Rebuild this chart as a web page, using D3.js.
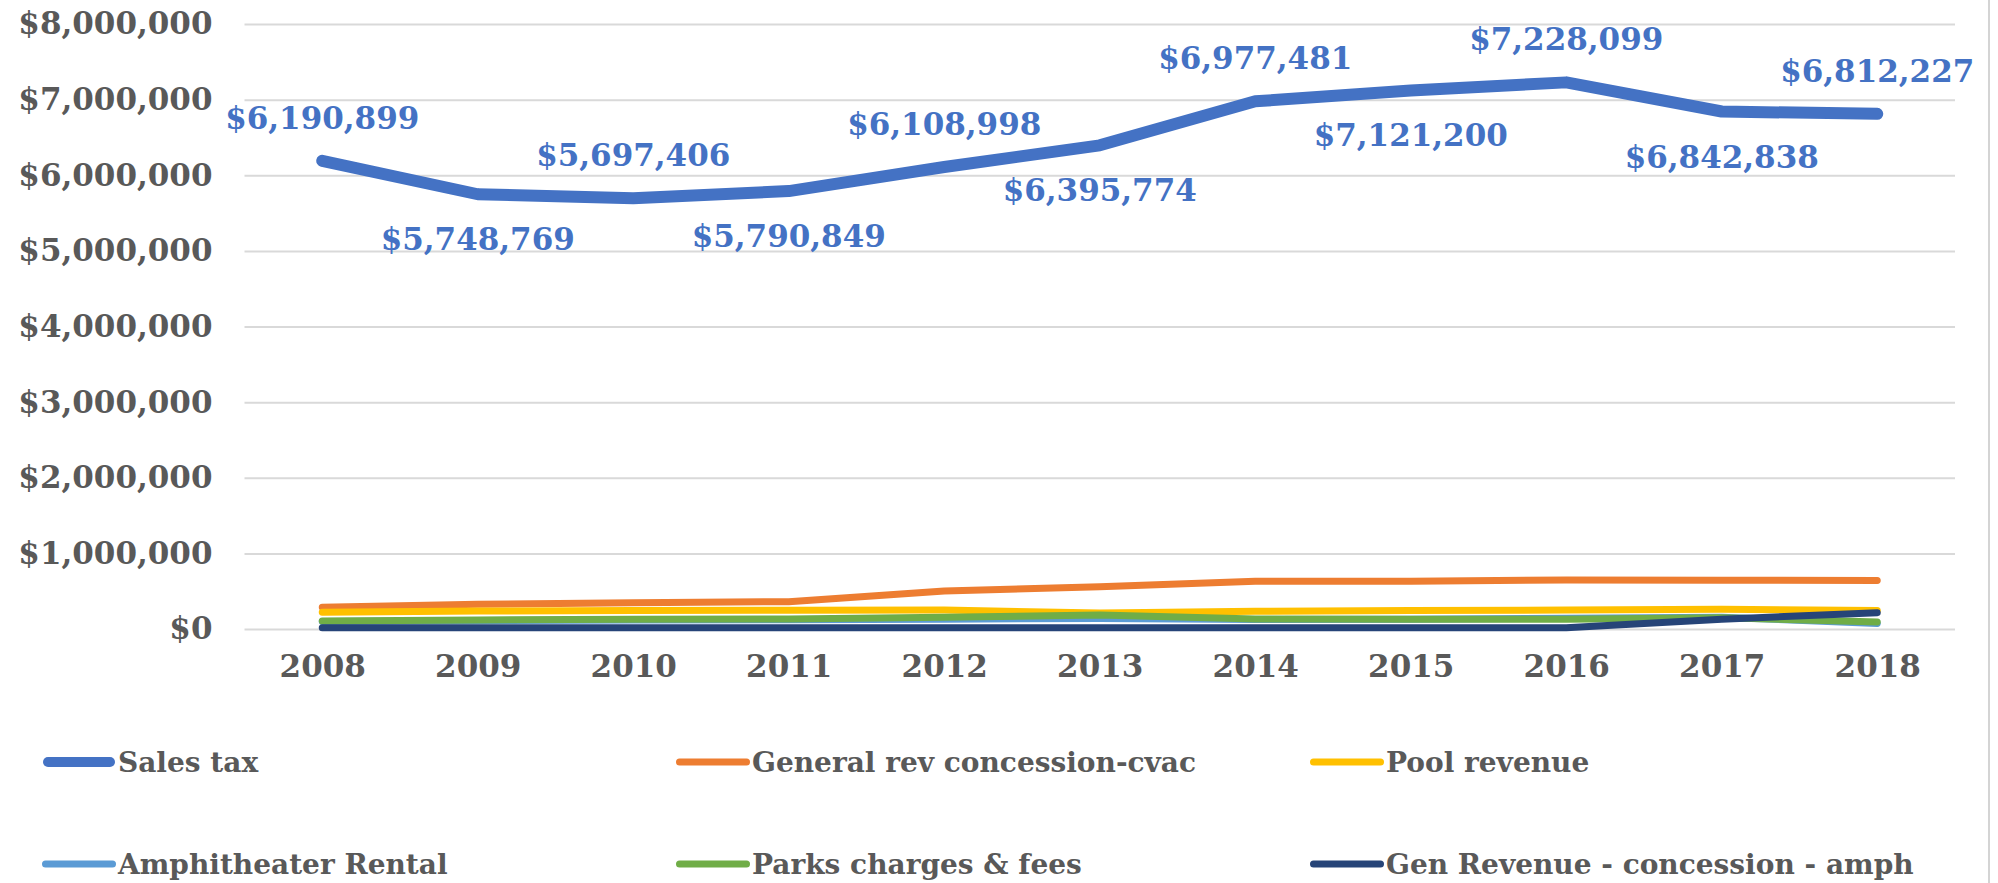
<!DOCTYPE html>
<html>
<head>
<meta charset="utf-8">
<script src="https://cdn.jsdelivr.net/npm/d3@7"></script>
<style>
  body { margin: 0; background: #fff; }
  text { font-family: 'DejaVu Serif', serif; font-weight: bold; }
</style>
</head>
<body>
<div id="chart"></div>
<script>
const years = ['2008', '2009', '2010', '2011', '2012', '2013', '2014', '2015', '2016', '2017', '2018'];
const yTicks = [0, 1000000, 2000000, 3000000, 4000000, 5000000, 6000000, 7000000, 8000000];

const salesTax = [6190899, 5748769, 5697406, 5790849, 6108998, 6395774, 6977481, 7121200, 7228099, 6842838, 6812227];
const generalRev = [287000, 326000, 348000, 361000, 502000, 560000, 630000, 632000, 648000, 645000, 642000];
const poolRevenue = [221000, 238000, 243000, 247000, 251000, 210000, 235000, 243000, 251000, 260000, 243000];
const amphRental = [100000, 110000, 118000, 122000, 130000, 140000, 125000, 128000, 143000, 155000, 74000];
const parksFees = [106000, 120000, 128000, 132000, 154000, 185000, 132000, 128000, 128000, 150000, 93000];
const genRevAmph = [15000, 15000, 15000, 15000, 15000, 15000, 15000, 15000, 15000, 130000, 215000];

const series = [
  { name: 'Sales tax', values: salesTax, color: '#4472C4', width: 12 },
  { name: 'General rev concession-cvac', values: generalRev, color: '#ED7D31', width: 7 },
  { name: 'Pool revenue', values: poolRevenue, color: '#FFC000', width: 7 },
  { name: 'Amphitheater Rental', values: amphRental, color: '#5B9BD5', width: 7 },
  { name: 'Parks charges & fees', values: parksFees, color: '#70AD47', width: 7 },
  { name: 'Gen Revenue - concession - amph', values: genRevAmph, color: '#264478', width: 7 }
];

const width = 1998;
const height = 883;
const plot = { left: 244.5, right: 1955, top: 24, bottom: 629 };

const svg = d3.select('#chart').append('svg')
  .attr('width', width)
  .attr('height', height);

const x = d3.scalePoint()
  .domain(years)
  .range([plot.left, plot.right])
  .padding(0.5);

const y = d3.scaleLinear()
  .domain([0, 8000000])
  .range([plot.bottom, plot.top]);

const money = d3.format('$,');

// gridlines + y labels
const yAxis = svg.append('g')
  .attr('transform', `translate(${plot.left},0)`)
  .call(d3.axisLeft(y)
    .tickValues(yTicks)
    .tickSize(-(plot.right - plot.left))
    .tickPadding(32)
    .tickFormat(money));
yAxis.select('.domain').remove();
yAxis.selectAll('.tick line')
  .attr('stroke', '#d9d9d9')
  .attr('stroke-width', 2);
yAxis.selectAll('.tick text')
  .attr('fill', '#595959')
  .style('font-size', '31px');

// x labels
const xAxis = svg.append('g')
  .attr('transform', `translate(0,${plot.bottom})`)
  .call(d3.axisBottom(x).tickSize(0).tickPadding(26));
xAxis.select('.domain').remove();
xAxis.selectAll('.tick text')
  .attr('fill', '#595959')
  .style('font-size', '31px');

// right border
svg.append('line')
  .attr('x1', 1989).attr('x2', 1989)
  .attr('y1', 0).attr('y2', height)
  .attr('stroke', '#d4d4d4')
  .attr('stroke-width', 2);

const line = d3.line()
  .x((d, i) => x(years[i]))
  .y((d) => y(d));

svg.selectAll('.series')
  .data(series)
  .enter()
  .append('path')
  .attr('class', 'series')
  .attr('d', (s) => line(s.values))
  .attr('fill', 'none')
  .attr('stroke', (s) => s.color)
  .attr('stroke-width', (s) => s.width)
  .attr('stroke-linecap', 'round')
  .attr('stroke-linejoin', 'round');

// data labels on sales tax, alternating above / below
svg.selectAll('.label')
  .data(salesTax)
  .enter()
  .append('text')
  .attr('class', 'label')
  .attr('x', (d, i) => x(years[i]))
  .attr('y', (d, i) => y(d) + (i % 2 === 0 ? -43 : 45))
  .attr('text-anchor', 'middle')
  .attr('dominant-baseline', 'central')
  .attr('fill', '#4472C4')
  .style('font-size', '31px')
  .text((d) => money(d));

// legend
const legend = svg.selectAll('.legend')
  .data(series)
  .enter()
  .append('g')
  .attr('class', 'legend')
  .attr('transform', (d, i) => `translate(${42 + (i % 3) * 634},${i < 3 ? 762 : 864})`);

legend.append('line')
  .attr('x1', (d) => d.width / 2).attr('x2', (d) => 74 - d.width / 2)
  .attr('y1', 0).attr('y2', 0)
  .attr('stroke', (d) => d.color)
  .attr('stroke-width', (d) => (d.width > 7 ? 10 : 7))
  .attr('stroke-linecap', 'round');

legend.append('text')
  .attr('x', 76)
  .attr('y', 0)
  .attr('dominant-baseline', 'central')
  .attr('fill', '#595959')
  .style('font-size', '28px')
  .text((d) => d.name);
</script>
</body>
</html>
